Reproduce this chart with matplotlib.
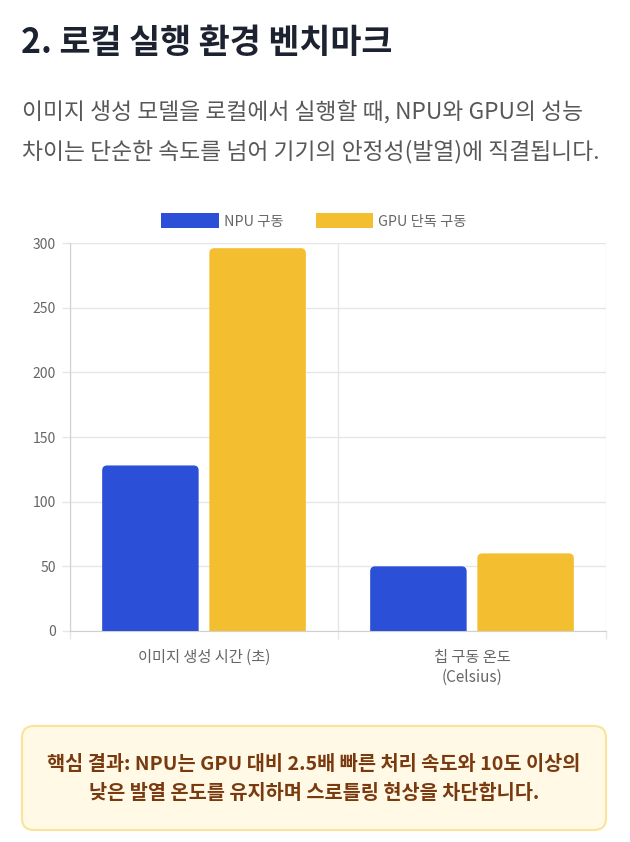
import numpy as np
import matplotlib
matplotlib.use('Agg')
import matplotlib.pyplot as plt
from matplotlib.patches import FancyBboxPatch, Rectangle

plt.rcParams['font.family'] = ['Noto Sans CJK KR', 'DejaVu Sans']

# chart data
categories = ['이미지 생성 시간 (초)', '칩 구동 온도\n(Celsius)']
series_names = ['NPU 구동', 'GPU 단독 구동']
npu_values = [128, 50]
gpu_values = [296, 60]
y_ticks = [0, 50, 100, 150, 200, 250, 300]

title = '2. 로컬 실행 환경 벤치마크'
subtitle = ['이미지 생성 모델을 로컬에서 실행할 때, NPU와 GPU의 성능',
            '차이는 단순한 속도를 넘어 기기의 안정성(발열)에 직결됩니다.']
note = ['핵심 결과: NPU는 GPU 대비 2.5배 빠른 처리 속도와 10도 이상의',
        '낮은 발열 온도를 유지하며 스로틀링 현상을 차단합니다.']

BLUE = '#2c4fd7'
YELLOW = '#f4be31'
GRID = '#e6e6e6'
TICK_TXT = '#666666'

W, H = 630, 842
fig = plt.figure(figsize=(W / 100, H / 100), dpi=100)

# background layer in pixel coords for the page text and the note box
bg = fig.add_axes([0, 0, 1, 1], zorder=0)
bg.set_xlim(0, W)
bg.set_ylim(H, 0)
bg.axis('off')

bg.text(21, 43, title, fontsize=24.3, fontweight='bold', color='#1c2230',
        ha='left', va='center')
for i, line in enumerate(subtitle):
    bg.text(22, 112 + i * 40, line, fontsize=16.4, color='#585858',
            ha='left', va='center')

box = FancyBboxPatch((22, 726), 584, 104, boxstyle='round,pad=0,rounding_size=12',
                     facecolor='#fff9e5', edgecolor='#fbe39c', linewidth=1.5)
bg.add_patch(box)
for i, line in enumerate(note):
    bg.text(314, 765 + i * 28, line, fontsize=14.2, fontweight='bold',
            color='#7a3a10', ha='center', va='center')

# chart
ax = fig.add_axes([70 / W, 1 - 631 / H, 536 / W, 388 / H], zorder=1)
ax.patch.set_alpha(0)
x = np.arange(len(categories))
bw = 0.36
off = 0.2
ax.set_xlim(-0.5, len(categories) - 0.5)
ax.set_ylim(0, 300)

# rounded top bars (bottom corners pushed below zero and clipped)
px_per_unit_x = 536 / 2.0
px_per_unit_y = 388 / 300.0
r_px = 5
for vals, dx, col in [(npu_values, -off, BLUE), (gpu_values, off, YELLOW)]:
    for xi, v in zip(x, vals):
        r_y = r_px / px_per_unit_y
        p = FancyBboxPatch((xi + dx - bw / 2, -r_y * 2), bw, v + r_y * 2,
                           boxstyle='round,pad=0,rounding_size=%f' % (r_px / px_per_unit_x),
                           mutation_aspect=px_per_unit_x / px_per_unit_y,
                           facecolor=col, edgecolor='none', zorder=3)
        p.set_clip_on(True)
        ax.add_patch(p)

ax.set_yticks(y_ticks)
ax.set_yticklabels([str(t) for t in y_ticks])
ax.set_xticks(x)
ax.set_xticklabels(categories, linespacing=1.25)
ax.set_xticks([-0.5, 0.5, 1.5], minor=True)

ax.grid(axis='y', color=GRID, linewidth=1, zorder=0)
ax.grid(axis='x', which='minor', color=GRID, linewidth=1, zorder=0)
ax.tick_params(axis='y', length=6, width=1, color=GRID, pad=4,
               labelsize=10, labelcolor=TICK_TXT)
ax.tick_params(axis='x', which='major', length=0, pad=13,
               labelsize=11, labelcolor=TICK_TXT)
ax.tick_params(axis='x', which='minor', length=6, width=1, color=GRID)

for s in ['top', 'right']:
    ax.spines[s].set_visible(False)
ax.spines['left'].set_color('#d0d0d0')
ax.spines['bottom'].set_color('#d0d0d0')

handles = [Rectangle((0, 0), 1, 1, facecolor=BLUE), Rectangle((0, 0), 1, 1, facecolor=YELLOW)]
fig.legend(handles, series_names, loc='center', bbox_to_anchor=(314 / W, 1 - 221 / H),
           ncol=2, frameon=False, fontsize=10.3, handlelength=4.0, handleheight=1.2,
           handletextpad=0.35, columnspacing=2.3, labelcolor=TICK_TXT)

fig.savefig('out.png', dpi=100)
